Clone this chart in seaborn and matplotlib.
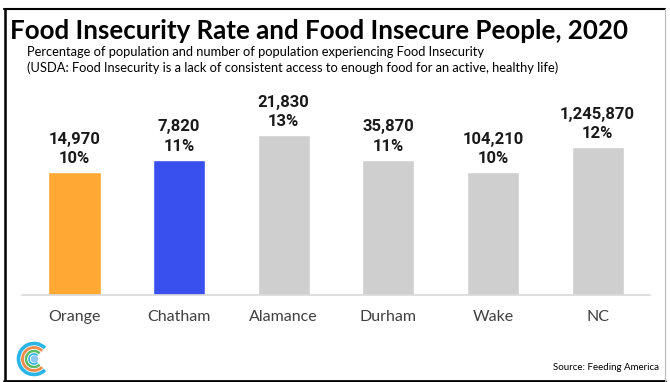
import matplotlib
matplotlib.use("Agg")
import matplotlib.pyplot as plt
import seaborn as sns
import pandas as pd
from matplotlib.patches import Arc, Circle
from matplotlib.lines import Line2D

categories = ["Orange", "Chatham", "Alamance", "Durham", "Wake", "NC"]
rates = [10, 11, 13, 11, 10, 12]
people = [14970, 7820, 21830, 35870, 104210, 1245870]
colors = ["#FFA833", "#3A50EE", "#D0CFCF", "#D0CFCF", "#D0CFCF", "#D0CFCF"]

sns.set_theme(style="white")
plt.rcParams["font.family"] = ["Lato", "DejaVu Sans"]

W, H = 670, 382
fig = plt.figure(figsize=(W / 100, H / 100), dpi=100)

def fx(px):
    return px / W

def fy(py):
    return 1 - py / H

ax = fig.add_axes([fx(22), fy(295), fx(650) - fx(22), fy(100) - fy(295)])
df = pd.DataFrame({"cat": categories, "rate": rates})
sns.barplot(data=df, x="cat", y="rate", hue="cat", palette=colors, legend=False,
            width=0.5, saturation=1, ax=ax)
ax.set_ylim(0, 195 / 12.3)
ax.set_xlim(-0.5, len(categories) - 0.5)
for s in ["top", "right", "left"]:
    ax.spines[s].set_visible(False)
ax.spines["bottom"].set_color("#D9D9D9")
ax.spines["bottom"].set_linewidth(1.2)
ax.set_yticks([])
ax.set_xlabel("")
ax.set_ylabel("")
ax.tick_params(axis="x", length=0, pad=11, labelsize=11.5, labelcolor="#404040")

for i, (r, p) in enumerate(zip(rates, people)):
    ax.text(i, r + 0.5, f"{p:,}\n{r}%", ha="center", va="bottom",
            fontsize=12, fontweight="bold", color="#1a1a1a",
            family=["Roboto", "DejaVu Sans"], linespacing=1.35)

fig.text(fx(10), fy(31), "Food Insecurity Rate and Food Insecure People, 2020",
         fontsize=18.6, fontweight="bold", color="#000000", va="center", ha="left")
fig.text(fx(27), fy(52), "Percentage of population and number of population experiencing Food Insecurity",
         fontsize=9.3, color="#000000", va="center", ha="left")
fig.text(fx(27), fy(68), "(USDA: Food Insecurity is a lack of consistent access to enough food for an active, healthy life)",
         fontsize=9.3, color="#000000", va="center", ha="left")
fig.text(fx(659), fy(367), "Source: Feeding America", fontsize=7, color="#000000",
         ha="right", va="center")

# border
fig.add_artist(Line2D([fx(4.5), fx(4.5)], [fy(380.5), fy(8.5)], color="black", lw=1.8))
fig.add_artist(Line2D([fx(4), fx(664.5)], [fy(9), fy(9)], color="black", lw=1.5))
fig.add_artist(Line2D([fx(4), fx(665)], [fy(380.5), fy(380.5)], color="black", lw=2))
fig.add_artist(Line2D([fx(664.5), fx(664.5)], [fy(9), fy(380.5)], color="#BBBBBB", lw=0.8))

# logo
lax = fig.add_axes([fx(14), fy(379), fx(54) - fx(14), fy(339) - fy(379)])
lax.set_xlim(-20, 20)
lax.set_ylim(-20, 20)
lax.set_aspect("equal")
lax.axis("off")
for r, c, lw in [(15.5, "#2BB5E6", 2.6), (11.5, "#F08A4B", 2.0), (8, "#5DBB63", 1.8), (5, "#2BB5E6", 1.2)]:
    lax.add_patch(Arc((0, 0), 2 * r, 2 * r, theta1=45, theta2=315, color=c, lw=lw))
lax.add_patch(Circle((0.5, 0), 3, color="#8CC8F0"))

fig.savefig("out.png", dpi=100)
